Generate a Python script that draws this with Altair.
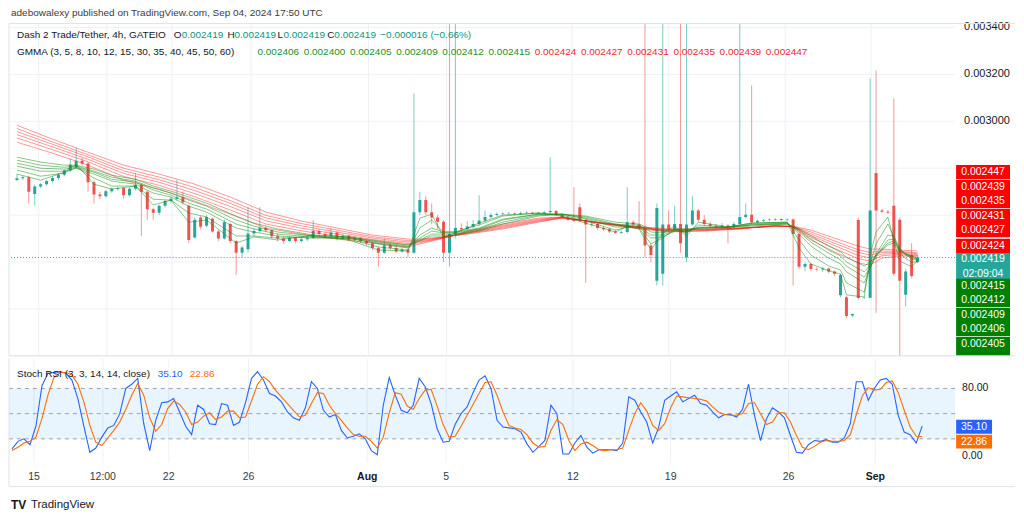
import altair as alt
import pandas as pd

# ---------------- data (prices in millionths of USDT) ----------------
OPEN = [2750, 2757, 2762, 2690, 2722, 2732, 2745, 2758, 2772, 2790,
        2805, 2832, 2820, 2740, 2688, 2680, 2702, 2712, 2716, 2685,
        2712, 2728, 2700, 2625, 2610, 2640, 2660, 2670, 2676, 2640,
        2505, 2590, 2555, 2585, 2530, 2500, 2562, 2490, 2440, 2455,
        2522, 2532, 2545, 2535, 2510, 2500, 2490, 2502, 2490, 2497,
        2502, 2532, 2520, 2510, 2526, 2500, 2512, 2495, 2502, 2490,
        2480, 2460, 2440, 2472, 2460, 2445, 2452, 2440, 2612, 2665,
        2612, 2590, 2572, 2440, 2520, 2545, 2540, 2552, 2562, 2577,
        2592, 2600, 2605, 2607, 2608, 2606, 2609, 2610, 2607, 2609,
        2612, 2618, 2600, 2590, 2580, 2634, 2579, 2560, 2562, 2545,
        2540, 2530, 2525, 2528, 2570, 2560, 2545, 2470, 2320, 2350,
        2560, 2540, 2562, 2420, 2560, 2620, 2580, 2562, 2555, 2550,
        2556, 2550, 2562, 2592, 2602, 2570, 2576, 2579, 2581, 2583,
        2579, 2581, 2520, 2380, 2392, 2370, 2368, 2372, 2360, 2258,
        2250, 2172, 2579, 2247, 2248, 2780, 2620, 2614, 2640, 2580,
        2260, 2430, 2400]
HIGH = [2775, 2768, 2768, 2730, 2738, 2750, 2765, 2780, 2795, 2840,
        2889, 2845, 2826, 2748, 2700, 2708, 2718, 2722, 2720, 2718,
        2779, 2735, 2705, 2632, 2645, 2665, 2678, 2750, 2700, 2645,
        2590, 2596, 2600, 2590, 2536, 2580, 2568, 2495, 2470, 2634,
        2545, 2634, 2552, 2540, 2522, 2508, 2512, 2506, 2505, 2510,
        2580, 2540, 2530, 2545, 2530, 2520, 2516, 2512, 2506, 2496,
        2486, 2466, 2500, 2478, 2470, 2462, 2458, 3119, 2700, 2680,
        2650, 2600, 2580, 3500, 3500, 2565, 2575, 2580, 2685, 2620,
        2610, 2612, 2612, 2614, 2612, 2615, 2616, 2614, 2614, 2617,
        2847, 2622, 2605, 2596, 2719, 2650, 2585, 2572, 2566, 2552,
        2546, 2538, 2535, 2719, 2578, 2660, 3500, 2478, 2650, 3500,
        2620, 2640, 3500, 3500, 2680, 2626, 2600, 2570, 2562, 2566,
        2562, 2570, 3500, 2650, 3153, 2582, 2584, 2586, 2588, 2587,
        2586, 2586, 2526, 2398, 2396, 2378, 2380, 2376, 2364, 2350,
        2256, 2180, 2590, 2252, 3183, 3217, 2626, 2622, 3098, 2590,
        2370, 2480, 2430]
LOW = [2745, 2750, 2650, 2640, 2715, 2725, 2738, 2750, 2765, 2785,
       2798, 2812, 2700, 2650, 2668, 2675, 2695, 2705, 2670, 2680,
       2705, 2510, 2580, 2580, 2600, 2632, 2650, 2662, 2645, 2480,
       2500, 2540, 2548, 2525, 2490, 2495, 2480, 2345, 2420, 2440,
       2510, 2525, 2528, 2500, 2490, 2478, 2485, 2480, 2484, 2490,
       2498, 2512, 2500, 2505, 2492, 2495, 2488, 2490, 2482, 2472,
       2450, 2380, 2435, 2452, 2438, 2440, 2420, 2435, 2600, 2600,
       2560, 2540, 2400, 2380, 2500, 2530, 2535, 2545, 2555, 2570,
       2585, 2595, 2600, 2602, 2600, 2602, 2604, 2603, 2603, 2605,
       2606, 2595, 2585, 2574, 2570, 2570, 2311, 2550, 2538, 2532,
       2524, 2520, 2520, 2522, 2550, 2538, 2420, 2400, 2300, 2300,
       2530, 2535, 2440, 2400, 2555, 2570, 2555, 2548, 2544, 2546,
       2480, 2545, 2555, 2585, 2560, 2565, 2570, 2573, 2575, 2574,
       2574, 2300, 2370, 2360, 2362, 2360, 2358, 2352, 2340, 2250,
       2160, 2165, 2240, 2242, 2245, 2183, 2610, 2606, 2340, 1992,
       2210, 2330, 2395]
CLOSE = [2757, 2762, 2700, 2722, 2732, 2745, 2758, 2772, 2790, 2815,
         2832, 2820, 2740, 2688, 2680, 2702, 2712, 2716, 2685, 2712,
         2728, 2700, 2625, 2610, 2640, 2660, 2670, 2676, 2655, 2494,
         2580, 2550, 2592, 2530, 2500, 2570, 2490, 2440, 2462, 2522,
         2532, 2545, 2535, 2510, 2500, 2490, 2502, 2490, 2497, 2502,
         2532, 2520, 2510, 2526, 2500, 2512, 2495, 2502, 2490, 2480,
         2460, 2440, 2472, 2460, 2445, 2452, 2440, 2612, 2665, 2612,
         2590, 2572, 2440, 2520, 2545, 2540, 2552, 2562, 2577, 2592,
         2600, 2605, 2607, 2608, 2606, 2609, 2610, 2607, 2609, 2612,
         2618, 2600, 2590, 2580, 2575, 2579, 2560, 2562, 2545, 2540,
         2530, 2525, 2528, 2570, 2560, 2545, 2470, 2430, 2630, 2560,
         2540, 2562, 2480, 2560, 2620, 2580, 2562, 2555, 2550, 2556,
         2550, 2562, 2592, 2602, 2570, 2576, 2579, 2581, 2583, 2579,
         2581, 2520, 2380, 2392, 2370, 2368, 2372, 2360, 2350, 2345,
         2170, 2178, 2247, 2248, 2620, 2620, 2614, 2610, 2350, 2320,
         2360, 2340, 2419]

# GMMA long-term group (read at these bar indices)
RED_IDX = [0, 6, 12, 18, 24, 30, 36, 42, 48, 54, 60, 66, 68, 72, 76, 82,
           88, 92, 98, 104, 110, 116, 122, 128, 131, 134, 138, 142, 144, 146, 149, 152]
EMA30 = [2911, 2864, 2813, 2749, 2711, 2660, 2604, 2545, 2519, 2498, 2481, 2464, 2477, 2502, 2532, 2562,
         2587, 2592, 2566, 2545, 2528, 2532, 2541, 2555, 2549, 2494, 2443, 2396, 2387, 2417, 2426, 2424]
EMA35 = [2929, 2879, 2827, 2765, 2727, 2678, 2622, 2562, 2533, 2510, 2490, 2473, 2482, 2503, 2529, 2557,
         2583, 2591, 2567, 2547, 2531, 2534, 2542, 2555, 2550, 2505, 2458, 2414, 2404, 2427, 2432, 2427]
EMA40 = [2943, 2891, 2838, 2778, 2740, 2692, 2637, 2576, 2544, 2519, 2496, 2479, 2486, 2504, 2526, 2553,
         2579, 2590, 2568, 2549, 2534, 2536, 2543, 2554, 2551, 2513, 2470, 2428, 2418, 2434, 2437, 2431]
EMA45 = [2956, 2902, 2848, 2789, 2751, 2705, 2650, 2588, 2554, 2528, 2502, 2485, 2490, 2505, 2524, 2549,
         2576, 2589, 2568, 2550, 2536, 2538, 2544, 2554, 2551, 2520, 2480, 2441, 2430, 2441, 2442, 2435]
EMA50 = [2969, 2912, 2857, 2800, 2762, 2718, 2662, 2599, 2564, 2536, 2508, 2491, 2494, 2506, 2521, 2545,
         2573, 2588, 2569, 2551, 2538, 2539, 2544, 2553, 2552, 2528, 2490, 2452, 2441, 2447, 2446, 2439]
EMA60 = [2983, 2924, 2868, 2813, 2775, 2732, 2677, 2613, 2575, 2545, 2515, 2498, 2498, 2507, 2519, 2541,
         2570, 2587, 2570, 2553, 2541, 2541, 2545, 2552, 2553, 2536, 2502, 2468, 2455, 2455, 2451, 2447]

# GMMA short-term group
GREEN_IDX = [0, 4, 8, 10, 13, 16, 20, 23, 26, 29,
             32, 37, 40, 44, 50, 56, 61, 66, 68, 70,
             72, 74, 78, 82, 88, 92, 96, 101, 103, 105,
             107, 109, 111, 113, 115, 120, 124, 130, 132, 134,
             137, 139, 140, 143, 144, 145, 147, 148, 149, 150,
             151, 152]
EMA3 = [2775, 2749, 2783, 2817, 2732, 2711, 2724, 2643, 2664, 2570,
        2579, 2481, 2507, 2494, 2515, 2494, 2451, 2447, 2587, 2604,
        2507, 2524, 2566, 2600, 2609, 2596, 2566, 2528, 2553, 2541,
        2451, 2524, 2553, 2511, 2570, 2550, 2566, 2570, 2460, 2392,
        2362, 2349, 2260, 2251, 2430, 2528, 2592, 2490, 2404, 2392,
        2380, 2406]
EMA5 = [2792, 2766, 2779, 2804, 2758, 2724, 2724, 2668, 2664, 2609,
        2592, 2511, 2511, 2502, 2507, 2498, 2464, 2451, 2545, 2579,
        2528, 2528, 2558, 2596, 2609, 2600, 2575, 2536, 2549, 2545,
        2477, 2502, 2541, 2524, 2558, 2549, 2566, 2570, 2494, 2430,
        2383, 2366, 2311, 2272, 2392, 2477, 2562, 2507, 2440, 2415,
        2400, 2400]
EMA8 = [2809, 2787, 2787, 2800, 2775, 2745, 2732, 2694, 2677, 2638,
        2613, 2545, 2528, 2511, 2502, 2502, 2477, 2460, 2515, 2545,
        2528, 2528, 2545, 2583, 2604, 2604, 2583, 2549, 2549, 2549,
        2502, 2507, 2532, 2528, 2549, 2549, 2562, 2566, 2519, 2468,
        2417, 2392, 2358, 2311, 2375, 2434, 2515, 2511, 2460, 2430,
        2415, 2405]
EMA10 = [2821, 2800, 2796, 2804, 2783, 2753, 2741, 2707, 2685, 2651,
         2626, 2562, 2541, 2519, 2507, 2502, 2481, 2464, 2502, 2532,
         2524, 2524, 2541, 2579, 2604, 2604, 2587, 2558, 2553, 2553,
         2515, 2515, 2532, 2532, 2545, 2548, 2558, 2566, 2528, 2485,
         2438, 2409, 2383, 2336, 2375, 2426, 2494, 2498, 2455, 2432,
         2420, 2409]
EMA12 = [2834, 2813, 2804, 2809, 2787, 2762, 2745, 2715, 2694, 2664,
         2638, 2579, 2553, 2528, 2511, 2507, 2485, 2468, 2494, 2519,
         2519, 2519, 2536, 2570, 2600, 2604, 2592, 2562, 2558, 2558,
         2528, 2524, 2536, 2536, 2545, 2548, 2558, 2562, 2536, 2498,
         2451, 2426, 2400, 2358, 2387, 2426, 2481, 2490, 2450, 2434,
         2424, 2412]
EMA15 = [2847, 2826, 2813, 2813, 2796, 2770, 2753, 2724, 2702, 2677,
         2651, 2596, 2566, 2541, 2515, 2507, 2490, 2473, 2490, 2511,
         2511, 2515, 2532, 2562, 2596, 2604, 2596, 2570, 2566, 2562,
         2541, 2532, 2541, 2541, 2545, 2547, 2553, 2562, 2541, 2511,
         2468, 2443, 2421, 2383, 2400, 2430, 2473, 2481, 2445, 2436,
         2426, 2415]

STOCH_K = [8, 17, 20, 13, 35, 83, 98, 99, 100, 98,
           90, 68, 35, 4, 9, 22, 33, 36, 50, 80,
           85, 92, 38, 6, 42, 63, 64, 68, 52, 35,
           25, 60, 55, 38, 37, 62, 60, 36, 40, 63,
           92, 100, 90, 74, 71, 64, 52, 45, 42, 57,
           88, 80, 54, 46, 49, 30, 21, 23, 26, 20,
           6, 1, 60, 93, 72, 54, 51, 60, 92, 82,
           62, 32, 16, 17, 37, 50, 58, 75, 90, 95,
           80, 42, 34, 33, 32, 28, 14, 4, 11, 18,
           60, 50, 2, 2, 15, 24, 10, 3, 7, 7,
           7, 6, 15, 70, 66, 52, 40, 15, 34, 66,
           71, 76, 64, 68, 72, 62, 60, 52, 45, 49,
           49, 46, 55, 85, 48, 18, 44, 57, 52, 45,
           24, 4, 3, 13, 18, 17, 19, 16, 16, 21,
           38, 88, 88, 66, 80, 90, 92, 85, 48, 28,
           25, 15, 35.10]
STOCH_D = [6, 10, 15, 17, 22, 44, 72, 93, 99, 99,
           96, 85, 64, 36, 16, 12, 21, 30, 40, 55,
           72, 86, 72, 45, 29, 37, 56, 65, 61, 52,
           37, 40, 47, 51, 43, 46, 53, 53, 45, 46,
           65, 85, 94, 88, 78, 70, 62, 54, 46, 48,
           62, 75, 74, 60, 50, 42, 33, 25, 23, 23,
           17, 9, 22, 51, 75, 73, 59, 55, 68, 78,
           79, 59, 37, 22, 23, 35, 48, 61, 74, 87,
           88, 72, 52, 36, 33, 31, 25, 15, 10, 11,
           30, 43, 37, 18, 6, 14, 16, 12, 7, 6,
           7, 7, 9, 30, 50, 63, 53, 36, 30, 38,
           57, 71, 70, 69, 68, 67, 65, 58, 52, 49,
           48, 48, 50, 62, 63, 50, 37, 40, 51, 51,
           40, 24, 10, 7, 11, 16, 18, 17, 17, 18,
           25, 49, 71, 81, 78, 79, 87, 89, 75, 54,
           34, 23, 22.86]

TICK_POS = [3.67, 15.17, 26.17, 39.5, 59.33, 72.5, 93.67, 110.0, 129.67, 144.17]
TICK_LABELS = ["15", "12:00", "22", "26", "Aug", "5", "12", "19", "26", "Sep"]
BOLD_LABELS = ["Aug", "Sep"]
PRICE_TICKS = [0.0020, 0.0022, 0.0024, 0.0026, 0.0028, 0.0030, 0.0032, 0.0034]
PRICE_LABELED = [0.0030, 0.0032, 0.0034]
RSI_TICKS = [0, 80]
RSI_LEVELS = [20, 50, 80]

# ---------------- styling / layout ----------------
SC = 1e-6
W, H_MAIN, H_RSI = 948, 333, 104
FONT = "Liberation Sans"
UP, DOWN = "#26a69a", "#ef5350"
GRID = "#eef1f7"
BORDER = "#e0e3eb"
TXT = "#131722"
GREEN_TXT, RED_TXT = "#1a921a", "#f7262b"

xs = alt.Scale(domain=[-0.5, 157.5], nice=False, zero=False)
ps = alt.Scale(domain=[0.0020002, 0.0034171], nice=False, zero=False)
rs = alt.Scale(domain=[-8.3, 115.3], nice=False, zero=False)
ONE = pd.DataFrame({"k": [0]})
NOAX = dict(axis=None)


def txt(t, px, py, color=TXT, size=10, align="left", weight="normal"):
    return alt.Chart(ONE).mark_text(text=t, align=align, baseline="middle", fontSize=size,
                                    font=FONT, color=color, fontWeight=weight).encode(
        x=alt.value(px), y=alt.value(py))


def box(x0, x1, y0, y1, color):
    return alt.Chart(ONE).mark_rect(color=color).encode(
        x=alt.value(x0), x2=alt.value(x1), y=alt.value(y0), y2=alt.value(y1))


def hline(x0, x1, y):
    return alt.Chart(ONE).mark_rule(color=BORDER, strokeWidth=1).encode(
        x=alt.value(x0), x2=alt.value(x1), y=alt.value(y))


def vline(x, y0, y1):
    return alt.Chart(ONE).mark_rule(color=BORDER, strokeWidth=1).encode(
        x=alt.value(x), y=alt.value(y0), y2=alt.value(y1))


# ---------------- tables ----------------
candles = pd.DataFrame({
    "i": list(range(len(CLOSE))),
    "o": [v * SC for v in OPEN],
    "h": [v * SC for v in HIGH],
    "l": [v * SC for v in LOW],
    "c": [v * SC for v in CLOSE],
})
candles["col"] = [UP if c >= o else DOWN for o, c in zip(OPEN, CLOSE)]

rows = []
for name, idx, vals, grp in [
    ("e30", RED_IDX, EMA30, "r"), ("e35", RED_IDX, EMA35, "r"),
    ("e40", RED_IDX, EMA40, "r"), ("e45", RED_IDX, EMA45, "r"),
    ("e50", RED_IDX, EMA50, "r"), ("e60", RED_IDX, EMA60, "r"),
    ("e3", GREEN_IDX, EMA3, "g"), ("e5", GREEN_IDX, EMA5, "g"),
    ("e8", GREEN_IDX, EMA8, "g"), ("e10", GREEN_IDX, EMA10, "g"),
    ("e12", GREEN_IDX, EMA12, "g"), ("e15", GREEN_IDX, EMA15, "g"),
]:
    for i, v in zip(idx, vals):
        rows.append({"i": i, "v": v * SC, "s": name, "grp": grp})
gmma = pd.DataFrame(rows)
red_df = gmma[gmma["grp"] == "r"]
green_df = gmma[gmma["grp"] == "g"]

stoch = pd.DataFrame({"i": list(range(len(STOCH_K))), "k": STOCH_K, "d": STOCH_D})
last = pd.DataFrame({"p": [CLOSE[-1] * SC]})
levels = pd.DataFrame({"lv": RSI_LEVELS})
band = pd.DataFrame({"a": [RSI_LEVELS[0]], "b": [RSI_LEVELS[-1]]})
ticks = pd.DataFrame({"pos": TICK_POS, "lab": TICK_LABELS,
                      "bold": [l in BOLD_LABELS for l in TICK_LABELS]})
pgrid = pd.DataFrame({"p": PRICE_TICKS})
plabels = pd.DataFrame({"p": PRICE_LABELED, "lab": [f"{p:.6f}" for p in PRICE_LABELED]})
rlabels = pd.DataFrame({"r": RSI_TICKS, "lab": [f"{r:.2f}" for r in RSI_TICKS]})

# ---------------- main pane ----------------
vgrid_main = alt.Chart(ticks).mark_rule(color=GRID, strokeWidth=1).encode(
    x=alt.X("pos:Q", scale=xs, **NOAX))
hgrid_main = alt.Chart(pgrid).mark_rule(color=GRID, strokeWidth=1).encode(
    y=alt.Y("p:Q", scale=ps, **NOAX))
price_lab = alt.Chart(plabels).mark_text(align="left", baseline="middle", font=FONT,
                                         fontSize=11, color=TXT).encode(
    x=alt.value(W + 9), y=alt.Y("p:Q", scale=ps, **NOAX), text="lab:N")

wick = alt.Chart(candles).mark_rule(strokeWidth=1, opacity=0.6, clip=True).encode(
    x=alt.X("i:Q", scale=xs, **NOAX),
    y=alt.Y("l:Q", scale=ps, **NOAX),
    y2="h:Q",
    color=alt.Color("col:N", scale=None))
body = alt.Chart(candles).mark_bar(size=3, clip=True).encode(
    x=alt.X("i:Q", scale=xs, **NOAX),
    y=alt.Y("o:Q", scale=ps, **NOAX),
    y2="c:Q",
    color=alt.Color("col:N", scale=None))
red_lines = alt.Chart(red_df).mark_line(strokeWidth=1, opacity=0.45, clip=True, color="#ff1a1a").encode(
    x=alt.X("i:Q", scale=xs, **NOAX), y=alt.Y("v:Q", scale=ps, **NOAX),
    detail="s:N", order="i:Q")
green_lines = alt.Chart(green_df).mark_line(strokeWidth=1, opacity=0.5, clip=True, color="#138c13").encode(
    x=alt.X("i:Q", scale=xs, **NOAX), y=alt.Y("v:Q", scale=ps, **NOAX),
    detail="s:N", order="i:Q")
price_line = alt.Chart(last).mark_rule(color=UP, strokeDash=[1, 2], strokeWidth=1).encode(
    y=alt.Y("p:Q", scale=ps, **NOAX))

cur = f"{CLOSE[-1] * SC:.6f}"
main_text = [
    txt("adebowalexy published on TradingView.com, Sep 04, 2024 17:50 UTC", 2, -10, "#3c3c3c", 10),
    txt("Dash 2 Trade/Tether, 4h, GATEIO", 8, 12),
    txt("O", 165, 12), txt(cur, 173, 12, "#089981"),
    txt("H", 219, 12), txt(cur, 226, 12, "#089981"),
    txt("L", 269, 12), txt(cur, 275, 12, "#089981"),
    txt("C", 319, 12), txt(cur, 326, 12, "#089981"),
    txt("\u22120.000016 (\u22120.66%)", 372, 12, "#089981"),
    txt("GMMA (3, 5, 8, 10, 12, 15, 30, 35, 40, 45, 50, 60)", 8, 29),
]
gmma_last = [EMA3[-1], EMA5[-1], EMA8[-1], EMA10[-1], EMA12[-1], EMA15[-1],
             EMA30[-1], EMA35[-1], EMA40[-1], EMA45[-1], EMA50[-1], EMA60[-1]]
for k, v in enumerate(gmma_last):
    main_text.append(txt(f"{v * SC:.6f}", 249 + 46.3 * k, 29, GREEN_TXT if k < 6 else RED_TXT))

# right-hand value tags
tags = []
red_tags = sorted(gmma_last[6:], reverse=True)
green_tags = sorted(gmma_last[:6], reverse=True)
red_centers = [149, 164, 178, 193, 207, 223]
green_centers = [263, 277, 292, 306, 321, 335]
for v, cy in zip(red_tags, red_centers):
    tags.append(box(949, 1003, cy - 7.2, cy + 7.2, "#ff0000"))
    tags.append(txt(f"{v * SC:.6f}", 976, cy, "white", 10.5, "center"))
tags.append(box(949, 1003, 230, 258, "#26a69a"))
tags.append(txt(cur, 976, 236.5, "white", 10.5, "center"))
tags.append(txt("02:09:04", 976, 251, "white", 10.5, "center"))
for v, cy in zip(green_tags, green_centers):
    tags.append(box(949, 1003, cy - 7.2, min(cy + 7.2, H_MAIN), "#008000"))
    if cy + 5 < H_MAIN:
        tags.append(txt(f"{v * SC:.6f}", 976, cy, "white", 10.5, "center"))

main_frame = [hline(0, 1008, 0), hline(0, 1008, H_MAIN), vline(0, 0, H_MAIN)]

main = alt.layer(vgrid_main, hgrid_main, price_lab, wick, body, red_lines, green_lines, price_line,
                 *main_text, *tags, *main_frame).properties(width=W, height=H_MAIN)

# ---------------- Stoch RSI pane ----------------
vgrid_rsi = alt.Chart(ticks).mark_rule(color=GRID, strokeWidth=1).encode(
    x=alt.X("pos:Q", scale=xs, **NOAX))
time_lab = alt.Chart(ticks[~ticks["bold"]]).mark_text(
    align="center", baseline="middle", font=FONT, fontSize=10.5, color="#363a45").encode(
    x=alt.X("pos:Q", scale=xs, **NOAX), y=alt.value(H_RSI + 14), text="lab:N")
time_lab_b = alt.Chart(ticks[ticks["bold"]]).mark_text(
    align="center", baseline="middle", font=FONT, fontSize=10.5, color="#131722",
    fontWeight="bold").encode(
    x=alt.X("pos:Q", scale=xs, **NOAX), y=alt.value(H_RSI + 14), text="lab:N")
rsi_lab = alt.Chart(rlabels).mark_text(align="left", baseline="middle", font=FONT,
                                       fontSize=10.5, color=TXT).encode(
    x=alt.value(W + 7), y=alt.Y("r:Q", scale=rs, **NOAX), text="lab:N")

band_l = alt.Chart(band).mark_rect(color="#2196f3", opacity=0.1).encode(
    x=alt.value(0), x2=alt.value(W),
    y=alt.Y("a:Q", scale=rs, **NOAX), y2="b:Q")
lvl_l = alt.Chart(levels).mark_rule(color="#787b86", strokeDash=[4, 4], opacity=0.7).encode(
    y=alt.Y("lv:Q", scale=rs, **NOAX))
k_l = alt.Chart(stoch).mark_line(color="#2962ff", strokeWidth=1.1).encode(
    x=alt.X("i:Q", scale=xs, **NOAX), y=alt.Y("k:Q", scale=rs, **NOAX))
d_l = alt.Chart(stoch).mark_line(color="#ff6d00", strokeWidth=1.1).encode(
    x=alt.X("i:Q", scale=xs, **NOAX), y=alt.Y("d:Q", scale=rs, **NOAX))

rsi_text = [
    txt("Stoch RSI (3, 3, 14, 14, close)", 8, 15),
    txt(f"{STOCH_K[-1]:.2f}", 149, 15, "#2962ff"),
    txt(f"{STOCH_D[-1]:.2f}", 181, 15, "#ff6d00"),
    box(949, 985, 61, 75, "#2962ff"),
    txt(f"{STOCH_K[-1]:.2f}", 967, 68, "white", 10.5, "center"),
    box(949, 985, 76, 90, "#ff6d00"),
    txt(f"{STOCH_D[-1]:.2f}", 967, 83, "white", 10.5, "center"),
    txt("TV", 2, 146, "#131722", 12, "left", "bold"),
    txt("TradingView", 22, 146, "#131722", 11.5),
]
rsi_frame = [vline(0, 0, 128), hline(0, 1008, 128)]

rsi = alt.layer(vgrid_rsi, band_l, lvl_l, k_l, d_l, rsi_lab, time_lab, time_lab_b,
                *rsi_text, *rsi_frame).properties(width=W, height=H_RSI)

chart = alt.vconcat(main, rsi, spacing=1).properties(padding=0).configure_view(stroke=None)

chart.save("out.html", embed_options={"renderer": "svg", "actions": False})
